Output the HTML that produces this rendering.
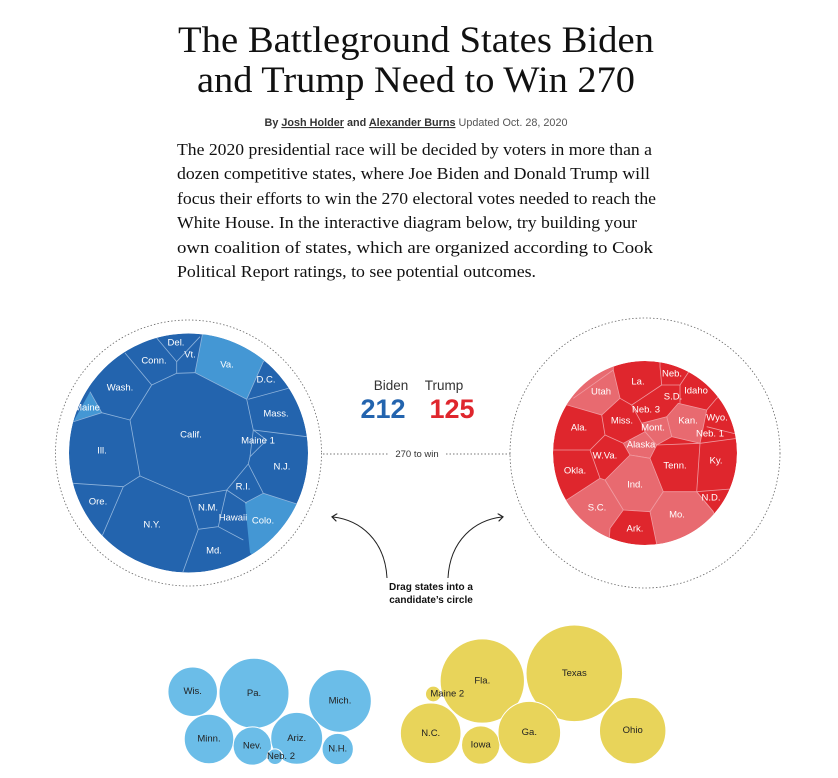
<!DOCTYPE html>
<html><head><meta charset="utf-8"><style>
html,body{margin:0;padding:0;background:#fff;}
svg{display:block;}
.serif{font-family:"Liberation Serif",serif;fill:#111;}
.sans{font-family:"Liberation Sans",sans-serif;}
.lbl{font-family:"Liberation Sans",sans-serif;font-size:9.5px;fill:#fff;text-anchor:middle;dominant-baseline:middle;}
.blbl{font-family:"Liberation Sans",sans-serif;font-size:9.5px;fill:#222;text-anchor:middle;dominant-baseline:middle;}
</style></head><body>
<svg id="root" width="838" height="778" viewBox="0 0 838 778" xmlns="http://www.w3.org/2000/svg">
<defs>
<clipPath id="cb"><circle cx="188.5" cy="453" r="119.5"/></clipPath>
<clipPath id="cr"><circle cx="645" cy="453" r="92"/></clipPath>
<marker id="ah" markerWidth="8" markerHeight="8" refX="4" refY="4" orient="auto"><path d="M0,0 L5,4 L0,8" fill="none" stroke="#222" stroke-width="1.2"/></marker>
</defs>
<g>
<text class="serif" x="416" y="52" font-size="37" text-anchor="middle" textLength="476" lengthAdjust="spacingAndGlyphs">The Battleground States Biden</text>
<text class="serif" x="416" y="92" font-size="37" text-anchor="middle" textLength="438" lengthAdjust="spacingAndGlyphs">and Trump Need to Win 270</text>
</g>
<text class="sans" x="416" y="126" font-size="11" text-anchor="middle" fill="#333" textLength="303" lengthAdjust="spacingAndGlyphs"><tspan font-weight="bold">By </tspan><tspan font-weight="bold" text-decoration="underline">Josh Holder</tspan><tspan font-weight="bold"> and </tspan><tspan font-weight="bold" text-decoration="underline">Alexander Burns</tspan><tspan fill="#555">   Updated Oct. 28, 2020</tspan></text>
<g class="serif" font-size="17" fill="#222">
<text x="177" y="155" textLength="475" lengthAdjust="spacingAndGlyphs">The 2020 presidential race will be decided by voters in more than a</text>
<text x="177" y="179" textLength="473" lengthAdjust="spacingAndGlyphs">dozen competitive states, where Joe Biden and Donald Trump will</text>
<text x="177" y="204" textLength="479" lengthAdjust="spacingAndGlyphs">focus their efforts to win the 270 electoral votes needed to reach the</text>
<text x="177" y="228" textLength="460" lengthAdjust="spacingAndGlyphs">White House. In the interactive diagram below, try building your</text>
<text x="177" y="253" textLength="476" lengthAdjust="spacingAndGlyphs">own coalition of states, which are organized according to Cook</text>
<text x="177" y="277" textLength="359" lengthAdjust="spacingAndGlyphs">Political Report ratings, to see potential outcomes.</text>
</g>

<!-- Biden circle -->
<g>
<circle cx="188.5" cy="453" r="133" fill="none" stroke="#666" stroke-width="0.8" stroke-dasharray="1.5,2"/>
<g clip-path="url(#cb)">
<circle cx="188.5" cy="453" r="119.5" fill="#2364ae"/>
<polygon points="195,372.7 203.3,330 280,350 263.3,361.7 246.7,399.3" fill="#4497d4"/>
<polygon points="73.3,421.7 90,391.7 101.7,412.7 60,425" fill="#4497d4"/>
<polygon points="245,503 263.3,493.3 300,505 320,510 300,580 250,553" fill="#4497d4"/>
<g fill="none" stroke="#8fb4dc" stroke-width="0.8">
<polyline points="151.7,385 176.7,373.3 195,372.7 246.7,399.3 253.3,430 250,456.7 248.3,464 226.7,490 188.3,496.7 140,476 130,420 151.7,385"/>
<polyline points="195,372.7 203.3,330"/><polyline points="246.7,399.3 263.3,361.7 280,345"/>
<polyline points="125,353 151.7,385"/><polyline points="60,425 73.3,421.7 101.7,412.7 130,420"/><polyline points="101.7,412.7 90,391.7"/>
<polyline points="156.7,338 176.7,361.7 200,336.7"/><polyline points="176.7,361.7 176.7,373.3"/>
<polyline points="248.3,399.3 296.7,386 310,384"/>
<polyline points="253.3,430 306.7,436.7 320,438"/><polyline points="253.3,430 266.7,440 250,456.7"/>
<polyline points="248.3,464 263.3,493.3 300,505"/><polyline points="226.7,490 246.7,503.3"/>
<polyline points="188.3,496.7 198.3,529.3 218.3,526.7 226.7,490"/><polyline points="218.3,526.7 243.3,540"/>
<polyline points="198.3,529.3 180,580"/>
<polyline points="60,483 73.3,483.3 123.3,486.7 140,476"/><polyline points="123.3,486.7 103.3,533.3 95,550"/>
<polyline points="245,503 263.3,493.3"/>
</g>
</g>
<g id="blueLabels"></g>
</g>

<!-- Trump circle -->
<g>
<circle cx="645" cy="453" r="135" fill="none" stroke="#666" stroke-width="0.8" stroke-dasharray="1.5,2"/>
<g clip-path="url(#cr)">
<circle cx="645" cy="453" r="92" fill="#df262d"/>
<g fill="#e86a70" stroke="#f09aa0" stroke-width="0.8">
<polygon points="573.3,398.3 613.3,370 613,340 560,360 550,400 601.7,415 620,398.3 613.3,370"/>
<polygon points="666.7,416.7 678.3,403.3 706.7,410 700,443.3 671.7,436.7"/>
<polygon points="641.7,423.3 666.7,416.7 671.7,436.7 656.7,445 645,431.7"/>
<polygon points="623.3,443.3 645,431.7 656.7,445 650,458.3 630,455"/>
<polygon points="605,480 630,455 650,458.3 663.3,491.7 650,511.7 623.3,510"/>
<polygon points="540,505 566.7,500 600,478.3 605,480 623.3,510 610,528.3 608,560 560,560"/>
<polygon points="650,511.7 663.3,491.7 696.7,491.7 713.3,511.7 725,545 660,560"/>
</g>
<g fill="none" stroke="#f09aa0" stroke-width="0.8">
<polyline points="660,355 660,366.7 661.7,385 680,385 690,370"/><polyline points="680,385 680,403.3"/>
<polyline points="620,398.3 631.7,405 641.7,423.3"/><polyline points="631.7,405 661.7,385"/>
<polyline points="706.7,410 716.7,398.3 730,390"/>
<polyline points="706.7,426.7 740,435"/><polyline points="700,443.3 740,438"/>
<polyline points="700,443.3 696.7,491.7 740,488.3"/><polyline points="713.3,511.7 696.7,491.7"/>
<polyline points="601.7,415 605,435 590,450 545,450"/><polyline points="605,435 623.3,443.3"/>
<polyline points="590,450 600,478.3"/><polyline points="656.7,445 700,443.3"/>
</g>
</g>
<g id="redLabels"></g>
</g>

<g class="sans">
<text x="391" y="390" font-size="13.5" fill="#333" text-anchor="middle">Biden</text>
<text x="444" y="390" font-size="13.5" fill="#333" text-anchor="middle">Trump</text>
<text x="383" y="418" font-size="27" font-weight="bold" fill="#2364ae" text-anchor="middle">212</text>
<text x="452" y="418" font-size="27" font-weight="bold" fill="#df262d" text-anchor="middle">125</text>
</g>
<g>
<line x1="323" y1="454" x2="388" y2="454" stroke="#777" stroke-dasharray="1.5,2"/>
<line x1="446" y1="454" x2="511" y2="454" stroke="#777" stroke-dasharray="1.5,2"/>
<text class="sans" x="417" y="457" font-size="9.5" fill="#333" text-anchor="middle">270 to win</text>
</g>
<g>
<path d="M387,578 C385,540 360,520 333,517" fill="none" stroke="#222" stroke-width="1" marker-end="url(#ah)"/>
<path d="M448,578 C450,540 475,520 502,517" fill="none" stroke="#222" stroke-width="1" marker-end="url(#ah)"/>
<text class="sans" x="431" y="590" font-size="10" font-weight="bold" fill="#111" text-anchor="middle">Drag states into a</text>
<text class="sans" x="431" y="603" font-size="10" font-weight="bold" fill="#111" text-anchor="middle">candidate’s circle</text>
</g>
<g id="bubbles"></g>
</svg>
<script>
// Toss-up state data
const blueStates = ["Wis.","Pa.","Mich.","Minn.","Nev.","Ariz.","Neb. 2","N.H."];
const blueVotes = [10,20,16,10,6,11,1,4];
const yellowStates = ["Fla.","Texas","Maine 2","N.C.","Iowa","Ga.","Ohio"];
const yellowVotes = [29,38,1,15,6,16,18];
// layout (pixel centers of packed bubbles)
const blueLayout = [[192.7,691.7],[254,693.3],[340,701],[209,739],[252.3,746],[296.7,738.3],[275,756.7],[337.7,749]];
const yellowLayout = [[482.3,681],[574.3,673.3],[433.3,694],[430.7,733.3],[480.7,745],[529.3,732.7],[632.7,730.7]];
const rScale = v => 7.83*Math.sqrt(v);
const NS="http://www.w3.org/2000/svg";
const bg=document.getElementById('bubbles');
function drawBubbles(names,votes,layout,fill,labelOffsets){
  names.forEach((n,i)=>{
    const c=document.createElementNS(NS,'circle');
    c.setAttribute('cx',layout[i][0]);c.setAttribute('cy',layout[i][1]);
    c.setAttribute('r',rScale(votes[i]));c.setAttribute('fill',fill);
    c.setAttribute('stroke','#fff');c.setAttribute('stroke-width','1');
    
    
    bg.appendChild(c);
  });
  names.forEach((n,i)=>{
    const t=document.createElementNS(NS,'text');
    const o=labelOffsets[n]||[0,0];
    t.setAttribute('x',layout[i][0]+o[0]);t.setAttribute('y',layout[i][1]+o[1]);
    t.setAttribute('class','blbl');t.textContent=n;
    
    
    bg.appendChild(t);
  });
}
drawBubbles(blueStates,blueVotes,blueLayout,'#6bbde8',{"Neb. 2":[6,0]});
drawBubbles(yellowStates,yellowVotes,yellowLayout,'#e8d45a',{"Maine 2":[14,0]});

const blueLbls=[["Del.",176,343],["Vt.",190,355],["Conn.",154,361],["Va.",227,365],["D.C.",266,380],["Wash.",120,388],["Maine",87,408],["Mass.",276,414],["Calif.",191,435],["Maine 1",258,441],["Ill.",102,451],["N.J.",282,467],["R.I.",243,487],["N.M.",208,508],["Hawaii",233,518],["Colo.",263,521],["Ore.",98,502],["N.Y.",152,525],["Md.",214,551]];
const redLbls=[["Neb.",672,374],["La.",638,382],["Utah",601,392],["S.D.",673,397],["Idaho",696,391],["Neb. 3",646,410],["Miss.",622,421],["Kan.",688,421],["Mont.",653,428],["Wyo.",717,418],["Neb. 1",710,434],["Ala.",579,428],["Alaska",641,445],["W.Va.",605,456],["Okla.",575,471],["Tenn.",675,466],["Ky.",716,461],["Ind.",635,485],["N.D.",711,498],["S.C.",597,508],["Mo.",677,515],["Ark.",635,529]];
function drawLabels(id,arr){
  const g=document.getElementById(id);
  arr.forEach(a=>{
    const t=document.createElementNS(NS,'text');
    t.setAttribute('x',a[1]);t.setAttribute('y',a[2]);t.setAttribute('class','lbl');
    t.textContent=a[0];
    
    
    g.appendChild(t);
  });
}
drawLabels('blueLabels',blueLbls);
drawLabels('redLabels',redLbls);
</script>
</body></html>
